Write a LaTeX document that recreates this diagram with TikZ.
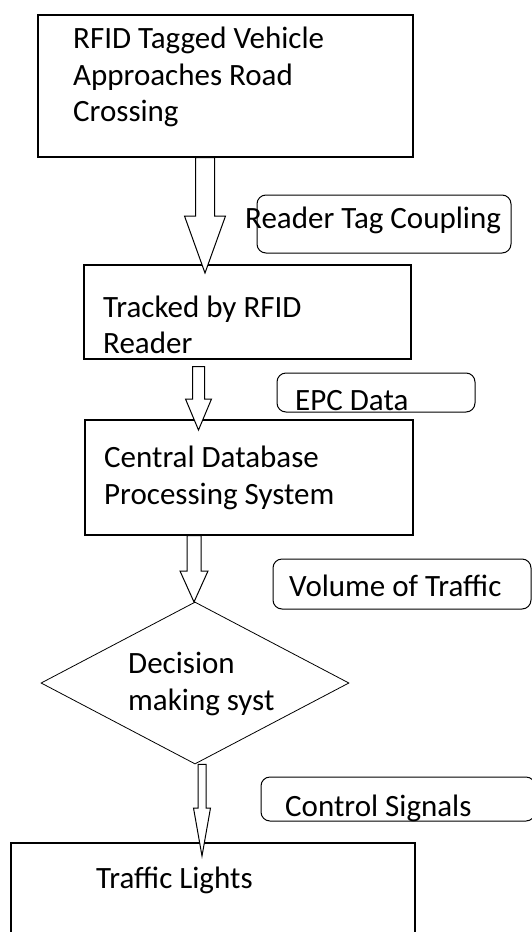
\documentclass[tikz,border=0pt]{standalone}
\usepackage{fontspec}
\setmainfont{Carlito}
\usetikzlibrary{calc,shapes.geometric}

\newlength{\du}
\setlength{\du}{1pt}
\definecolor{dialinecolor}{rgb}{0.000000, 0.000000, 0.000000}

\tikzset{
  stepbox/.style={draw=dialinecolor, line width=1.1\du, fill=white, inner sep=0pt},
  decide/.style={diamond, draw=dialinecolor, line width=0.8\du, inner sep=0pt},
  note/.style={draw=dialinecolor, line width=1\du, rounded corners=9\du, inner sep=0pt},
  txt/.style={anchor=west, inner sep=0pt, align=left, font=\fontsize{31}{36.5}\selectfont},
  barrow/.style={draw=dialinecolor, line width=1\du, fill=white, line join=miter},
}

% hollow block arrow: start, tip, half shaft, half head, head length
\newcommand{\blockarrow}[5]{%
  \path (#1) coordinate (ba-s) (#2) coordinate (ba-t);
  \draw[barrow] ($(ba-s)+(-#3\du,0)$) -- ($(ba-t)+(-#3\du,-#5\du)$)
    -- ($(ba-t)+(-#4\du,-#5\du)$) -- (ba-t) -- ($(ba-t)+(#4\du,-#5\du)$)
    -- ($(ba-t)+(#3\du,-#5\du)$) -- ($(ba-s)+(#3\du,0)$) -- cycle;}

\begin{document}
\begin{tikzpicture}
\pgftransformyscale{-1.000000}
\useasboundingbox (0\du,0\du) rectangle (532\du,932\du);

% boxes
\node[stepbox, minimum width=375\du, minimum height=142\du] (veh) at (225.5\du,86\du) {};
\node[stepbox, minimum width=327\du, minimum height=94\du] (trk) at (247.5\du,312\du) {};
\node[stepbox, minimum width=328\du, minimum height=115\du] (cdb) at (249\du,477.5\du) {};
\node[decide, minimum width=308\du, minimum height=162\du] (dec) at (195\du,683\du) {};
\node[stepbox, minimum width=404\du, minimum height=97\du] (tl) at (213\du,891.5\du) {};

% setfont left to latex
\node[txt] (vehtxt) at (73\du,77\du) {RFID Tagged Vehicle\\Approaches Road\\Crossing};
\node[txt] (trktxt) at (103\du,325\du) {Tracked by RFID\\Reader};
\node[txt] (cdbtxt) at (104\du,478\du) {Central Database\\Processing System};
\node[txt] (dectxt) at (128\du,684\du) {Decision\\making syst};
\node[txt] (tltxt) at (96\du,880\du) {Traffic Lights};

% side notes
\node[note, minimum width=254\du, minimum height=58\du] (cpl) at (384\du,224\du) {};
\node[note, minimum width=198\du, minimum height=39\du] (epc) at (376\du,392.5\du) {};
\node[note, minimum width=258\du, minimum height=50\du] (vol) at (402\du,584\du) {};
\node[note, minimum width=274\du, minimum height=44\du] (sig) at (398\du,799\du) {};
\node[txt] (cpltxt) at (245\du,220\du) {Reader Tag Coupling};
\node[txt] (epctxt) at (295\du,401\du) {EPC Data};
\node[txt] (voltxt) at (289\du,586\du) {Volume of Traffic};
\node[txt] (sigtxt) at (285\du,808\du) {Control Signals};

% arrows
\coordinate (a1) at (205\du,273\du);
\coordinate (a2) at (198.5\du,430\du);
\coordinate (a3) at (194\du,602\du);
\coordinate (a4) at (202\du,856\du);
\blockarrow{veh.south -| a1}{a1}{9.5}{20.5}{57}
\blockarrow{$(trk.south -| a2)+(0,7\du)$}{a2}{6}{13}{31}
\blockarrow{cdb.south -| a3}{a3}{7}{14}{31}
\blockarrow{dec.south -| a4}{a4}{4}{8.5}{48}
\end{tikzpicture}
\end{document}
